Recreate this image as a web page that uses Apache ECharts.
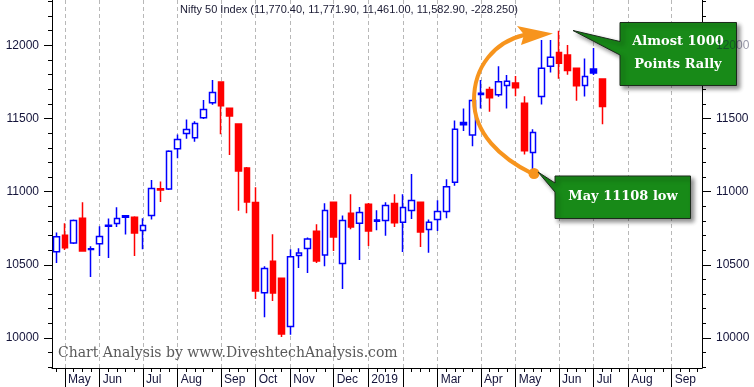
<!DOCTYPE html>
<html><head><meta charset="utf-8">
<script src="https://cdn.jsdelivr.net/npm/echarts@6/dist/echarts.min.js"></script>
<style>html,body{margin:0;padding:0;background:#fff}#c{width:754px;height:387px}</style>
</head><body><div id="c"></div>
<script>
// Weekly categories (week starting Monday)
const weeks = ['2018-04-23','2018-04-30','2018-05-07','2018-05-14','2018-05-21','2018-05-28','2018-06-04','2018-06-11','2018-06-18','2018-06-25',
'2018-07-02','2018-07-09','2018-07-16','2018-07-23','2018-07-30','2018-08-06','2018-08-13','2018-08-20','2018-08-27','2018-09-03',
'2018-09-10','2018-09-17','2018-09-24','2018-10-01','2018-10-08','2018-10-15','2018-10-22','2018-10-29','2018-11-05','2018-11-12',
'2018-11-19','2018-11-26','2018-12-03','2018-12-10','2018-12-17','2018-12-24','2018-12-31','2019-01-07','2019-01-14','2019-01-21',
'2019-01-28','2019-02-04','2019-02-11','2019-02-18','2019-02-25','2019-03-04','2019-03-11','2019-03-18','2019-03-25','2019-04-01',
'2019-04-08','2019-04-15','2019-04-22','2019-04-29','2019-05-06','2019-05-13','2019-05-20','2019-05-27','2019-06-03','2019-06-10',
'2019-06-17','2019-06-24','2019-07-01','2019-07-08','2019-07-15','2019-07-22','2019-07-29','2019-08-05','2019-08-12','2019-08-19',
'2019-08-26','2019-09-02','2019-09-09','2019-09-16','2019-09-23'];

const opens = [10590,10702,10650,10819,10610,10645,10770,10782,10836,10826,
10735,10837,11020,11019,11293,11398,11368,11505,11607,11749,
11571,11462,11161,10926,10310,10525,10408,10078,10563,10612,
10730,10568,10928,10509,10853,10785,10914,10806,10803,10919,
10791,10871,10928,10741,10810,10864,11065,11473,11388,11672,
11699,11662,11726,11742,11605,11268,11651,11858,11952,11934,
11843,11726,11839,11770.4];

const closes = [10692,10616,10803,10595,10605,10693,10764,10817,10826,10718,
10769,11022,11012,11277,11357,11425,11466,11562,11678,11587,
11518,11142,10930,10321,10475,10308,10028,10556,10581,10677,
10527,10871,10691,10803,10759,10858,10732,10798,10906,10787,
10892,10940,10725,10791,10864,11033,11427,11458,11624,11665,
11642,11752,11754,11710,11279,11405,11843,11918,11877,11829,
11724,11788,11811.15,11582.9];

const lows = [10513,10601,10643,10595,10417,10561,10547,10759,10707,10561,
10607,10810,10930,11012,11229,11361,11341,11496,11594,11393,
11250,10869,10853,10267,10142,10253,10007,10023,10479,10445,
10513,10490,10595,10335,10744,10533,10629,10737,10698,10759,
10588,10814,10622,10582,10732,10819,11040,11414,11311,11569,
11546,11648,11569,11653,11254,11108,11596,11815,11772,11799,
11621,11651,11798,11461];

const highs = [10721,10785,10810,10928,10627,10764,10817,10894,10837,10832,
10819,11079,11070,11284,11391,11494,11482,11626,11763,11751,
11573,11464,11168,11031,10490,10709,10410,10607,10614,10687,
10778,10921,10930,10837,10983,10896,10923,10873,10928,10983,
10983,11120,10930,10810,10942,11085,11487,11569,11630,11763,
11717,11858,11797,11790,11653,11427,12036,12036,12100,12002,
11845,11911,11982,11771.9];

const yMajorTicks = [10000,10500,11000,11500,12000];
const yMinorTicks = [9800,9900,10000,10100,10200,10300,10400,10500,10600,10700,10800,10900,11000,
11100,11200,11300,11400,11500,11600,11700,11800,11900,12000,12100,12200,12300];
const monthWeekIdx = [1,5,10,14,19,23,27,32,36,40,44,49,53,58,62,66,71];
const monthLabels = ['May','Jun','Jul','Aug','Sep','Oct','Nov','Dec','2019','','Mar','Apr','May','Jun','Jul','Aug','Sep'];

const seriesName = 'Nifty 50 Index';
const watermark = 'Chart Analysis by www.DiveshtechAnalysis.com';
const note1 = ['Almost 1000', 'Points Rally'];
const note2 = 'May 11108 low';

const BLUE = '#0000ff', RED = '#ff0000';
const LABEL_COLOR = '#14143a';
const SANS = '"Liberation Sans", Arial, sans-serif';
const SERIF = '"DejaVu Serif", Georgia, serif';

const candles = opens.map((o, i) => {
  const c = closes[i];
  const col = (i === 0 || c >= closes[i - 1]) ? BLUE : RED;
  const fill = c < o ? col : '#ffffff';
  return {
    value: [o, c, lows[i], highs[i]],
    itemStyle: { color: fill, color0: fill, borderColor: col, borderColor0: col }
  };
});

const last = opens.length - 1;
const f2 = v => v.toLocaleString('en-US', {minimumFractionDigits: 2, maximumFractionDigits: 2});
const titleText = seriesName + ' (' + f2(opens[last]) + ', ' + f2(highs[last]) + ', ' + f2(lows[last]) + ', ' +
  f2(closes[last]) + ', ' + (closes[last] - closes[last - 1]).toFixed(3) + ')';

const yMin = 9795, yMax = 12310;
const yBase = { type: 'value', min: yMin, max: yMax, scale: true, splitLine: { show: false },
  axisLine: { show: false, onZero: false }, axisTick: { show: false }, axisLabel: { show: false } };

const chart = echarts.init(document.getElementById('c'), null, { renderer: 'canvas' });
chart.setOption({
  animation: false,
  backgroundColor: '#ffffff',
  title: { text: titleText, left: 180, top: 4, padding: 0,
    textStyle: { fontSize: 11, fontWeight: 'normal', color: '#1a1a33', fontFamily: SANS } },
  grid: { left: 52, right: 52, top: 0, bottom: 19, containLabel: false, outerBoundsMode: 'none' },
  xAxis: [
    { type: 'category', data: weeks, boundaryGap: true, position: 'bottom',
      axisLine: { show: true, onZero: false, lineStyle: { color: '#000', width: 1 } },
      axisTick: { show: true, interval: 0, alignWithLabel: true, length: 4, lineStyle: { color: '#000' } },
      axisLabel: { show: false }, splitLine: { show: false } },
    { type: 'value', min: -0.5, max: 74.5, position: 'bottom',
      axisLine: { show: false, onZero: false },
      axisTick: { show: true, length: 20, customValues: monthWeekIdx, lineStyle: { color: '#000' } },
      splitLine: { show: true, lineStyle: { color: '#b8b8b8', type: [4, 3], width: 1 } },
      axisLabel: { show: true, customValues: monthWeekIdx, align: 'left', margin: 6, padding: [0, 0, 0, 3],
        fontSize: 12, color: LABEL_COLOR, fontFamily: SANS,
        formatter: v => { const k = monthWeekIdx.indexOf(Math.round(v)); return k >= 0 ? monthLabels[k] : ''; } } }
  ],
  yAxis: [
    Object.assign({}, yBase, { position: 'left',
      axisLine: { show: true, onZero: false, lineStyle: { color: '#000', width: 1 } },
      axisTick: { show: true, length: 8, customValues: yMajorTicks, lineStyle: { color: '#000' } },
      axisLabel: { show: true, customValues: yMajorTicks, margin: 13, fontSize: 12, color: LABEL_COLOR, fontFamily: SANS,
        formatter: v => String(v) } }),
    Object.assign({}, yBase, { position: 'left',
      axisTick: { show: true, length: 4, customValues: yMinorTicks, lineStyle: { color: '#000' } } }),
    Object.assign({}, yBase, { position: 'right', z: 200,
      axisLabel: { show: true, customValues: yMajorTicks, margin: 14, fontSize: 12, color: LABEL_COLOR, fontFamily: SANS,
        formatter: v => v === 12000 ? '{f|' + v + '}' : String(v),
        rich: { f: { fontSize: 12, fontFamily: SANS, color: 'rgba(20,20,58,0.45)' } } } }),
    Object.assign({}, yBase, { position: 'right',
      axisLine: { show: true, onZero: false, lineStyle: { color: '#000', width: 1 } },
      axisTick: { show: true, length: 4, customValues: yMinorTicks, lineStyle: { color: '#000' } } }),
    Object.assign({}, yBase, { position: 'right',
      axisTick: { show: true, length: 9, customValues: yMajorTicks, lineStyle: { color: '#000' } } })
  ],
  series: [{
    type: 'candlestick', name: seriesName, xAxisIndex: 0, yAxisIndex: 0,
    barWidth: 6, data: candles,
    itemStyle: { borderWidth: 1.5 }
  }],
  graphic: [
    { type: 'text', x: 58, y: 353, z: 1,
      style: { text: watermark, fill: '#5a5a5a', fontSize: 14, fontFamily: SERIF, align: 'left', verticalAlign: 'middle' } },
    // orange curved arrow
    { type: 'bezierCurve', z: 100,
      shape: { x1: 533, y1: 174, cpx1: 500, cpy1: 158, cpx2: 474, cpy2: 133, x2: 474, y2: 100 },
      style: { stroke: '#f7941d', lineWidth: 4, fill: null, lineCap: 'round' } },
    { type: 'bezierCurve', z: 100,
      shape: { x1: 474, y1: 100, cpx1: 474, cpy1: 66, cpx2: 495, cpy2: 42, x2: 524, y2: 35 },
      style: { stroke: '#f7941d', lineWidth: 4, fill: null, lineCap: 'round' } },
    { type: 'polygon', z: 100,
      shape: { points: [[553, 33.5], [517, 26], [524, 34.5], [521, 45]] },
      style: { fill: '#f7941d' } },
    { type: 'circle', z: 100, shape: { cx: 534, cy: 173.5, r: 5.5 }, style: { fill: '#f7941d' } },
    // callout 1
    { type: 'polygon', z: 100,
      shape: { points: [[620, 22.5], [736.5, 22.5], [736.5, 85.5], [620, 85.5], [620, 55], [573, 30.5], [620, 41.5]] },
      style: { fill: '#188a18', stroke: '#1c2a1c', lineWidth: 1,
        shadowBlur: 4, shadowOffsetX: 3, shadowOffsetY: 3, shadowColor: 'rgba(0,0,0,0.45)' } },
    { type: 'text', z: 101, x: 678, y: 42,
      style: { text: note1[0], fill: '#ffffff', fontSize: 13, fontWeight: 'bold', fontFamily: SERIF, align: 'center', verticalAlign: 'middle' } },
    { type: 'text', z: 101, x: 678, y: 64.5,
      style: { text: note1[1], fill: '#ffffff', fontSize: 13, fontWeight: 'bold', fontFamily: SERIF, align: 'center', verticalAlign: 'middle' } },
    // callout 2
    { type: 'polygon', z: 100,
      shape: { points: [[555, 176], [690.5, 176], [690.5, 218.5], [555, 218.5], [555, 192], [538, 172], [555, 183]] },
      style: { fill: '#188a18', stroke: '#1c2a1c', lineWidth: 1,
        shadowBlur: 4, shadowOffsetX: 3, shadowOffsetY: 3, shadowColor: 'rgba(0,0,0,0.45)' } },
    { type: 'text', z: 101, x: 623, y: 196.5,
      style: { text: note2, fill: '#ffffff', fontSize: 13, fontWeight: 'bold', fontFamily: SERIF, align: 'center', verticalAlign: 'middle' } }
  ]
});
</script>
</body></html>
